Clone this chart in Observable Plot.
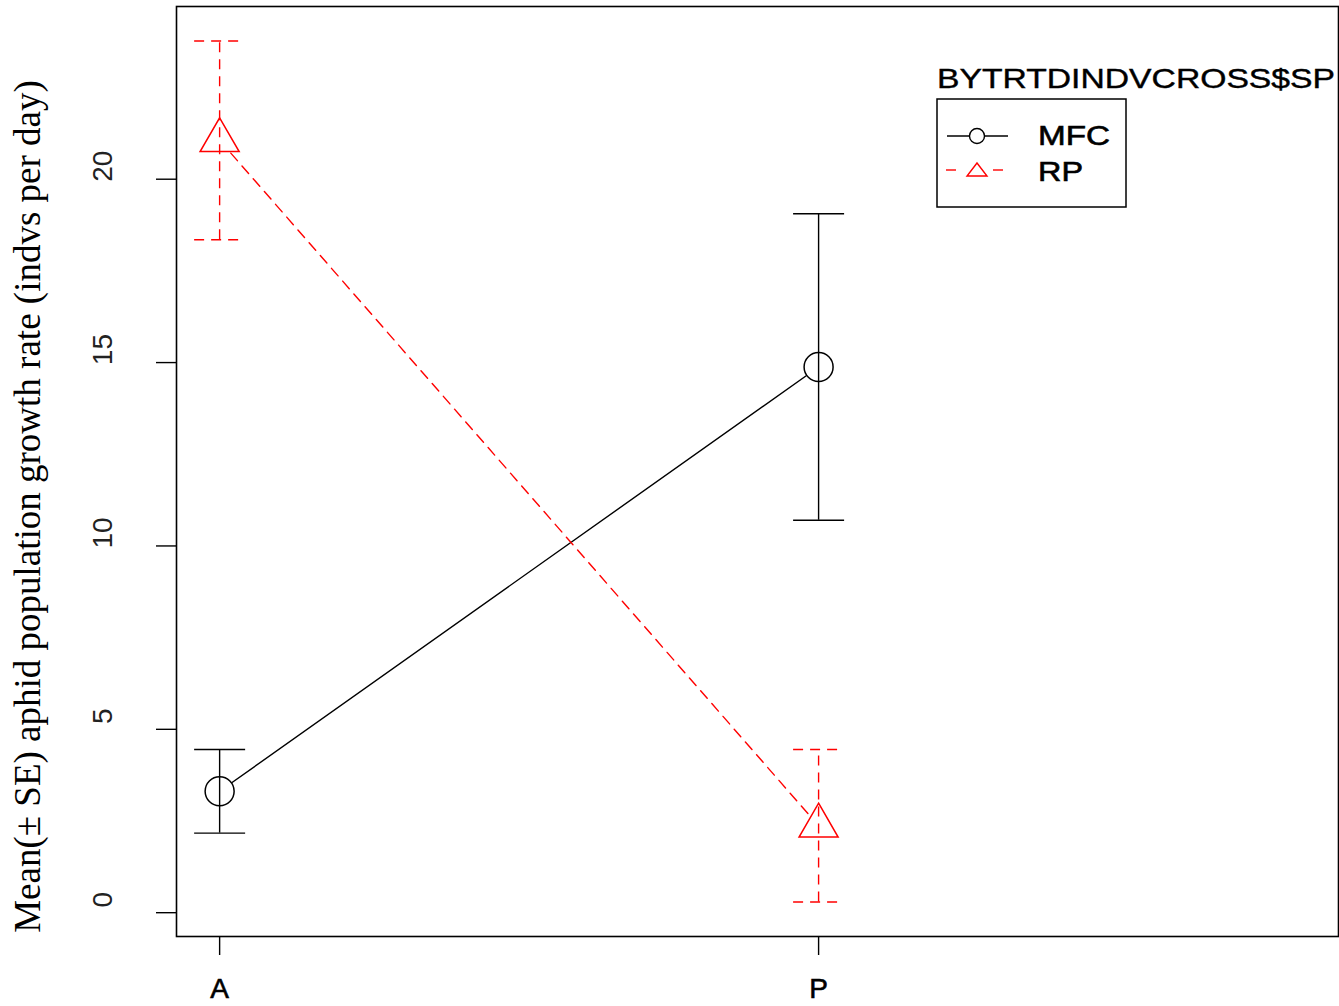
<!DOCTYPE html>
<html>
<head>
<meta charset="utf-8">
<script src="https://cdn.jsdelivr.net/npm/d3@7"></script>
<script src="https://cdn.jsdelivr.net/npm/@observablehq/plot@0.6"></script>
<style>
  html, body { margin: 0; padding: 0; background: #fff; }
  #wrap { position: relative; width: 1339px; height: 1006px; }
  #legend { position: absolute; left: 0; top: 0; pointer-events: none; }
</style>
</head>
<body>
<div id="wrap"></div>
<script>
// ---- data ----
const categories = ["A", "P"];
const seriesNames = ["MFC", "RP"];
const mfcMean = [3.31, 14.88];
const mfcSE = [1.14, 4.18];
const rpMean = [21.06, 2.37];
const rpSE = [2.71, 2.08];
const yTicks = [0, 5, 10, 15, 20];
const legendTitle = "BYTRTDINDVCROSS$SP";
const yLabel = "Mean(\u00B1 SE) aphid population growth rate (indvs per day)";

// ---- table ----
const rows = [];
categories.forEach((c, i) => {
  rows.push({series: "MFC", cat: c, xi: i + 1, mean: mfcMean[i], lo: mfcMean[i] - mfcSE[i], hi: mfcMean[i] + mfcSE[i]});
  rows.push({series: "RP", cat: c, xi: i + 1, mean: rpMean[i], lo: rpMean[i] - rpSE[i], hi: rpMean[i] + rpSE[i]});
});
const colors = {MFC: "black", RP: "red"};
const dash = {MFC: null, RP: "10,7"};

// R-style 4% range extension
const yMin = d3.min(rows, d => d.lo), yMax = d3.max(rows, d => d.hi);
const ext = (yMax - yMin) * 0.04;
const yDomain = [yMin - ext, yMax + ext];

const capSymbol = {draw(ctx, size) { ctx.moveTo(-25.5, 0); ctx.lineTo(25.5, 0); }};

const marks = [];
for (const s of seriesNames) {
  const d = rows.filter(r => r.series === s);
  marks.push(Plot.line(d, {x: "xi", y: "mean", stroke: colors[s], strokeWidth: 1.4, strokeDasharray: dash[s]}));
  marks.push(Plot.dot(d, {x: "xi", y: "mean", r: 14.5, symbol: s === "MFC" ? "circle" : "triangle", stroke: colors[s], fill: "white", strokeWidth: 1.5}));
  marks.push(Plot.ruleX(d, {x: "xi", y1: "lo", y2: "hi", stroke: colors[s], strokeWidth: 1.4, strokeDasharray: dash[s]}));
  marks.push(Plot.dot(d, {x: "xi", y: "lo", symbol: capSymbol, stroke: colors[s], strokeWidth: 1.4, strokeDasharray: dash[s], fill: "none"}));
  marks.push(Plot.dot(d, {x: "xi", y: "hi", symbol: capSymbol, stroke: colors[s], strokeWidth: 1.4, strokeDasharray: dash[s], fill: "none"}));
}

const chart = Plot.plot({
  width: 1339,
  height: 1006,
  marginLeft: 176,
  marginRight: 1,
  marginTop: 6,
  marginBottom: 70,
  style: {background: "white", fontFamily: "'Liberation Sans', Arial, sans-serif", overflow: "visible"},
  x: {domain: [0.928, 2.868]},
  y: {domain: yDomain},
  marks: [
    Plot.frame({stroke: "black", strokeWidth: 1.6}),
    Plot.axisX([1, 2], {tickSize: 19, tickPadding: 23, tickFormat: i => categories[i - 1], fontSize: 28, stroke: "black", strokeWidth: 1.4, color: "black", label: null}),
    Plot.axisY(yTicks, {tickSize: 20, tickFormat: () => "", stroke: "black", strokeWidth: 1.4, label: null}),
    Plot.text(yTicks, {y: d => d, text: d => String(d), frameAnchor: "left", dx: -73, dy: -13, rotate: -90, textAnchor: "middle", lineAnchor: "middle", fontSize: 28, fill: "#222"}),
    Plot.text([yLabel], {text: d => d, frameAnchor: "left", dx: -148, dy: 35, rotate: -90, textAnchor: "middle", lineAnchor: "middle", fontSize: 37, fontFamily: "'Liberation Serif', 'Times New Roman', serif", fill: "black"}),
    ...marks
  ]
});

const wrap = document.getElementById("wrap");
wrap.appendChild(chart);
// slightly heavier category labels, like the reference rendering
d3.select(chart).selectAll('g[aria-label="x-axis tick label"] text')
  .attr("stroke", "black").attr("stroke-width", 0.6);

// ---- legend overlay ----
const svg = d3.select(wrap).append("svg").attr("id", "legend").attr("width", 1339).attr("height", 1006)
  .style("font-family", "'Liberation Sans', Arial, sans-serif");
svg.append("text").attr("x", 937).attr("y", 88).attr("font-size", 28)
  .attr("stroke", "black").attr("stroke-width", 0.4)
  .attr("textLength", 398).attr("lengthAdjust", "spacingAndGlyphs").text(legendTitle);
svg.append("rect").attr("x", 937).attr("y", 99).attr("width", 189).attr("height", 108)
  .attr("fill", "none").attr("stroke", "black").attr("stroke-width", 1.5);
// MFC entry
svg.append("line").attr("x1", 947).attr("x2", 1008).attr("y1", 136).attr("y2", 136).attr("stroke", "black").attr("stroke-width", 1.4);
svg.append("circle").attr("cx", 977).attr("cy", 136).attr("r", 7.5).attr("fill", "white").attr("stroke", "black").attr("stroke-width", 1.4);
svg.append("text").attr("x", 1038).attr("y", 145).attr("font-size", 27)
  .attr("stroke", "black").attr("stroke-width", 0.6)
  .attr("textLength", 72).attr("lengthAdjust", "spacingAndGlyphs").text(seriesNames[0]);
// RP entry
svg.append("line").attr("x1", 946).attr("x2", 956).attr("y1", 170).attr("y2", 170).attr("stroke", "red").attr("stroke-width", 1.4);
svg.append("line").attr("x1", 993).attr("x2", 1003).attr("y1", 170).attr("y2", 170).attr("stroke", "red").attr("stroke-width", 1.4);
svg.append("path").attr("d", "M977,163L987,176L967,176Z").attr("fill", "white").attr("stroke", "red").attr("stroke-width", 1.4);
svg.append("text").attr("x", 1038).attr("y", 181).attr("font-size", 27)
  .attr("stroke", "black").attr("stroke-width", 0.6)
  .attr("textLength", 45).attr("lengthAdjust", "spacingAndGlyphs").text(seriesNames[1]);
</script>
</body>
</html>
